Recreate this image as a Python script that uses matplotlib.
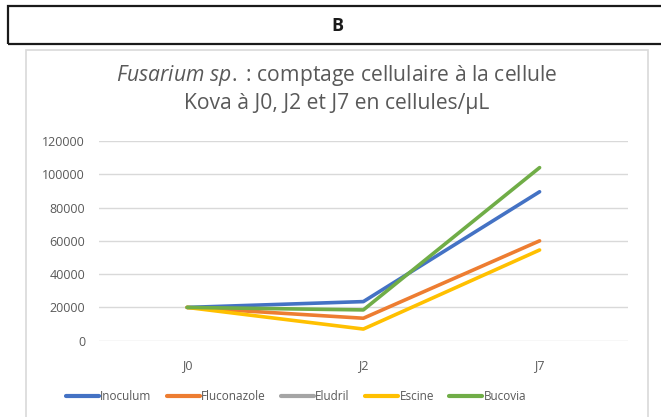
import numpy as np
import matplotlib.pyplot as plt
from matplotlib.patches import Rectangle

plt.rcParams['font.family'] = 'Open Sans'
plt.rcParams['mathtext.fontset'] = 'custom'
plt.rcParams['mathtext.it'] = 'Open Sans:italic'
plt.rcParams['mathtext.rm'] = 'Open Sans'

days = ['J0', 'J2', 'J7']
inoculum = [20000, 23500, 89500]
fluconazole = [20000, 13500, 60000]
eludril = [np.nan, np.nan, np.nan]
escine = [20000, 7000, 54500]
bucovia = [20000, 18500, 104000]

series = [('Inoculum', inoculum, '#4472C4'),
          ('Fluconazole', fluconazole, '#ED7D31'),
          ('Eludril', eludril, '#A5A5A5'),
          ('Escine', escine, '#FFC000'),
          ('Bucovia', bucovia, '#70AD47')]

fig = plt.figure(figsize=(6.61, 4.17), dpi=100)

# panel header box
fig.patches.append(Rectangle((8 / 661, 1 - 44 / 417), 0.99, 38 / 417, transform=fig.transFigure,
                             fill=False, edgecolor='#1a1a1a', linewidth=1.6))
fig.text(337 / 661, 1 - 26 / 417, 'B', ha='center', va='center', fontsize=13, fontweight='bold',
         color='#1a1a1a')

# chart area frame
fig.patches.append(Rectangle((26 / 661, -0.05), 622 / 661, 1 - 50 / 417 + 0.05, transform=fig.transFigure,
                             fill=False, edgecolor='#d9d9d9', linewidth=1.2))

fig.text(337 / 661, 1 - 76 / 417, r'$Fusarium\ sp.$ : comptage cellulaire à la cellule',
         ha='center', va='center', fontsize=15.2, color='#595959')
fig.text(337 / 661, 1 - 103 / 417, 'Kova à J0, J2 et J7 en cellules/µL',
         ha='center', va='center', fontsize=15.2, color='#595959')

ax = fig.add_axes([99 / 661, 76.3 / 417, 528.7 / 661, 199.7 / 417])
x = np.arange(len(days))
for name, vals, color in series:
    ax.plot(x, vals, color=color, linewidth=2.6, label=name, solid_capstyle='round')

ax.set_xlim(-0.5, 2.5)
ax.set_ylim(0, 120000)
ax.set_yticks(np.arange(0, 120001, 20000))
ax.set_xticks(x)
ax.set_xticklabels(days)
ax.grid(axis='y', color='#d9d9d9', linewidth=1)
ax.set_axisbelow(True)
for s in ax.spines.values():
    s.set_visible(False)
ax.tick_params(length=0, labelsize=9, labelcolor='#595959')
ax.tick_params(axis='y', pad=10)
ax.tick_params(axis='x', pad=13)

fig.legend(loc='center', bbox_to_anchor=(296 / 661, 20 / 417), ncol=5, frameon=False,
           fontsize=8.5, labelcolor='#595959', handlelength=2.8, handletextpad=0.1,
           columnspacing=1.3)
for line in fig.legends[0].get_lines():
    line.set_linewidth(3)

fig.savefig('out.png', dpi=100)
